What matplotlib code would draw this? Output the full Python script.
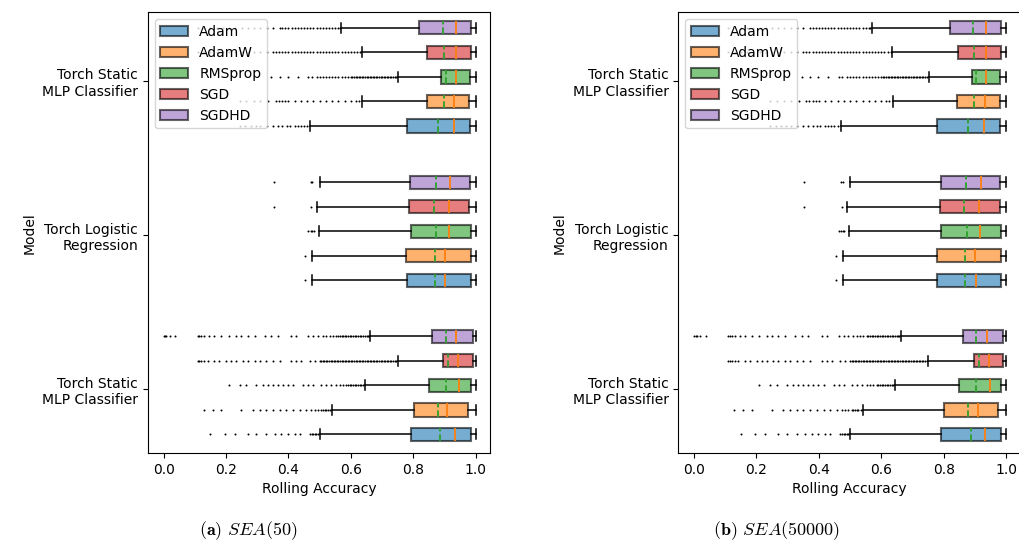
import matplotlib
matplotlib.use("Agg")
import matplotlib.pyplot as plt

plt.rcParams["mathtext.fontset"] = "cm"

# groups listed bottom -> top, optimizers in legend order
models = ["Torch Static\nMLP Classifier", "Torch Logistic\nRegression", "Torch Static\nMLP Classifier"]
optimizers = ["Adam", "AdamW", "RMSprop", "SGD", "SGDHD"]
colors = ["tab:blue", "tab:orange", "tab:green", "tab:red", "tab:purple"]
panels = [r"$\mathbf{(a)}$ $\mathit{SEA}(50)$", r"$\mathbf{(b)}$ $\mathit{SEA}(50000)$"]

# one row per model group, one column per optimizer
q1 = [[0.792, 0.802, 0.850, 0.896, 0.861],
      [0.779, 0.777, 0.791, 0.787, 0.790],
      [0.779, 0.843, 0.889, 0.845, 0.819]]
med = [[0.933, 0.909, 0.947, 0.944, 0.938],
       [0.902, 0.900, 0.915, 0.914, 0.918],
       [0.930, 0.931, 0.936, 0.936, 0.936]]
q3 = [[0.984, 0.975, 0.985, 0.991, 0.991],
      [0.985, 0.985, 0.985, 0.979, 0.981],
      [0.981, 0.979, 0.981, 0.984, 0.984]]
mean = [[0.887, 0.878, 0.904, 0.912, 0.904],
        [0.868, 0.868, 0.873, 0.866, 0.872],
        [0.878, 0.897, 0.904, 0.897, 0.894]]
whislo = [[0.500, 0.541, 0.645, 0.750, 0.662],
          [0.476, 0.476, 0.498, 0.491, 0.500],
          [0.470, 0.636, 0.752, 0.634, 0.569]]
whishi = [[1.0, 1.0, 1.0, 1.0, 1.0],
          [1.0, 1.0, 1.0, 1.0, 1.0],
          [1.0, 1.0, 1.0, 1.0, 1.0]]

fliers = [
    [
        [0.150, 0.196, 0.228, 0.270, 0.297, 0.329, 0.356, 0.377, 0.398, 0.420, 0.436,
         0.468, 0.474, 0.479, 0.484, 0.489, 0.495],
        [0.129, 0.158, 0.185, 0.249, 0.286, 0.308, 0.329, 0.350, 0.372, 0.393, 0.415,
         0.436, 0.457, 0.473, 0.484, 0.495, 0.505, 0.510, 0.516, 0.521, 0.527, 0.534],
        [0.209, 0.244, 0.265, 0.297, 0.318, 0.334, 0.350, 0.366, 0.382, 0.398, 0.415,
         0.447, 0.463, 0.479, 0.505, 0.521, 0.537, 0.553, 0.564, 0.575, 0.585, 0.590,
         0.596, 0.601, 0.607, 0.612, 0.617, 0.622, 0.628, 0.633, 0.639],
        [0.110, 0.115, 0.121, 0.131, 0.142, 0.163, 0.179, 0.201, 0.217, 0.233, 0.254,
         0.270, 0.292, 0.308, 0.329, 0.350, 0.372, 0.409, 0.425, 0.441, 0.468, 0.484,
         0.500, 0.505, 0.510, 0.515, 0.520, 0.525, 0.530, 0.535, 0.540, 0.545, 0.550,
         0.555, 0.560, 0.565, 0.570, 0.575, 0.580, 0.585, 0.590, 0.595, 0.600, 0.605,
         0.610, 0.615, 0.620, 0.625, 0.630, 0.635, 0.640, 0.645, 0.650, 0.655, 0.660,
         0.665, 0.670, 0.675, 0.680, 0.685, 0.690, 0.695, 0.700, 0.705, 0.710, 0.715,
         0.720, 0.725, 0.730, 0.735, 0.740, 0.745],
        [0.001, 0.005, 0.009, 0.019, 0.038, 0.110, 0.115, 0.121, 0.131, 0.147, 0.163,
         0.185, 0.209, 0.233, 0.249, 0.270, 0.292, 0.324, 0.345, 0.366, 0.409, 0.425,
         0.463, 0.479, 0.495, 0.511, 0.521, 0.532, 0.543, 0.553, 0.559, 0.564, 0.570,
         0.575, 0.580, 0.585, 0.590, 0.596, 0.601, 0.607, 0.612, 0.617, 0.622, 0.628,
         0.633, 0.639, 0.644, 0.650, 0.655, 0.658],
    ],
    [
        [0.454],
        [0.454],
        [0.463, 0.471, 0.476, 0.482],
        [0.353, 0.473],
        [0.353, 0.471, 0.476],
    ],
    [
        [0.244, 0.262, 0.279, 0.295, 0.310, 0.330, 0.350, 0.365, 0.380, 0.395, 0.405,
         0.420, 0.430, 0.440, 0.450, 0.460],
        [0.244, 0.265, 0.290, 0.310, 0.335, 0.360, 0.370, 0.380, 0.390, 0.400, 0.420,
         0.440, 0.460, 0.480, 0.500, 0.520, 0.540, 0.560, 0.580, 0.600, 0.615, 0.625],
        [0.345, 0.372, 0.398, 0.430, 0.463, 0.475, 0.490, 0.500, 0.510, 0.520, 0.530,
         0.540, 0.550, 0.560, 0.570, 0.580, 0.590, 0.600, 0.605, 0.610, 0.615, 0.620,
         0.625, 0.630, 0.635, 0.640, 0.645, 0.650, 0.655, 0.660, 0.665, 0.670, 0.675,
         0.680, 0.685, 0.690, 0.695, 0.700, 0.705, 0.710, 0.715, 0.720, 0.725, 0.730,
         0.735, 0.740, 0.745],
        [0.110, 0.130, 0.150, 0.170, 0.190, 0.210, 0.230, 0.250, 0.270, 0.290, 0.310,
         0.330, 0.350, 0.360, 0.370, 0.380, 0.390, 0.400, 0.410, 0.420, 0.430, 0.440,
         0.450, 0.460, 0.470, 0.480, 0.490, 0.500, 0.510, 0.520, 0.530, 0.540, 0.550,
         0.560, 0.570, 0.580, 0.590, 0.600, 0.610, 0.620, 0.630],
        [0.110, 0.130, 0.150, 0.170, 0.190, 0.210, 0.230, 0.250, 0.270, 0.290, 0.310,
         0.330, 0.350, 0.372, 0.380, 0.390, 0.400, 0.410, 0.420, 0.430, 0.440, 0.450,
         0.460, 0.470, 0.480, 0.490, 0.500, 0.510, 0.520, 0.530, 0.540, 0.550, 0.560,
         0.565],
    ],
]

fig = plt.figure(figsize=(10.19, 5.41), dpi=100)
axes = [fig.add_axes([0.1452, 0.1627, 0.3361, 0.8142]),
        fig.add_axes([0.6657, 0.1627, 0.3361, 0.8142])]

for ax, caption, cx in zip(axes, panels, [0.244, 0.762]):
    stats = []
    positions = []
    for g in range(len(models)):
        for k in range(len(optimizers)):
            stats.append({
                "q1": q1[g][k], "med": med[g][k], "q3": q3[g][k],
                "mean": mean[g][k], "whislo": whislo[g][k], "whishi": whishi[g][k],
                "fliers": fliers[g][k],
            })
            positions.append(g + 0.025 + (k - 2) * 0.159)

    bp = ax.bxp(stats, positions=positions, widths=0.085, capwidths=0.065,
                orientation="horizontal", patch_artist=True,
                showmeans=True, meanline=True, manage_ticks=False,
                boxprops=dict(linewidth=1.5),
                whiskerprops=dict(linewidth=1.1),
                capprops=dict(linewidth=1.1),
                medianprops=dict(color="tab:orange", linewidth=1.3),
                meanprops=dict(color="tab:green", linestyle="--", linewidth=1.3),
                flierprops=dict(marker="o", markersize=0.9, markeredgewidth=0.5,
                                markerfacecolor="black", markeredgecolor="black",
                                linestyle="none"))

    for i, box in enumerate(bp["boxes"]):
        box.set_facecolor(colors[i % 5])
        box.set_edgecolor("black")
        box.set_alpha(0.6)

    ax.set_yticks(range(len(models)))
    ax.set_yticklabels(models)
    ax.set_ylim(-0.413, 2.443)
    ax.set_xlim(-0.05, 1.047)
    ax.set_xticks([0.0, 0.2, 0.4, 0.6, 0.8, 1.0])
    ax.set_xlabel("Rolling Accuracy")
    ax.set_ylabel("Model")
    ax.legend(bp["boxes"][:5], optimizers, loc="upper left")

    fig.text(cx, 1 - 531 / 541, caption, ha="center", va="center", fontsize=13)

fig.savefig("out.png", dpi=100)
